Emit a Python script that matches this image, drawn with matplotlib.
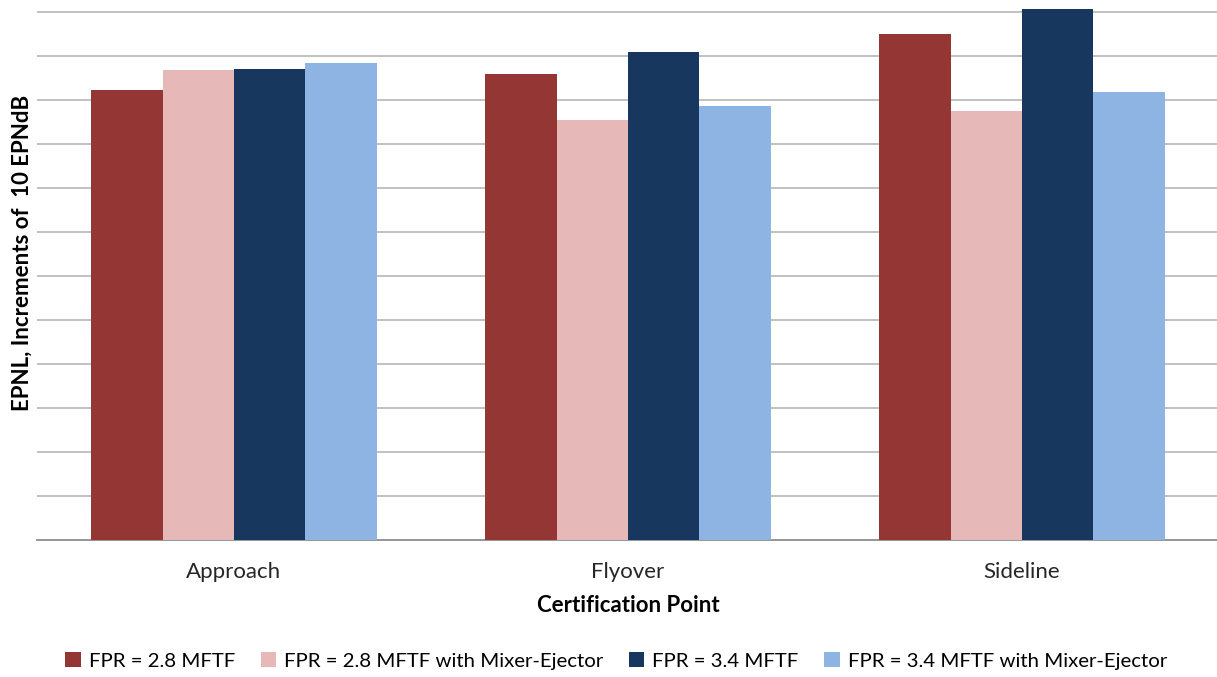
import matplotlib
matplotlib.use("Agg")
import matplotlib.pyplot as plt
import numpy as np

plt.rcParams['font.family'] = ['Lato', 'DejaVu Sans']

categories = ["Approach", "Flyover", "Sideline"]
series_names = ["FPR = 2.8 MFTF", "FPR = 2.8 MFTF with Mixer-Ejector",
                "FPR = 3.4 MFTF", "FPR = 3.4 MFTF with Mixer-Ejector"]
# EPNL (gridlines every 10 EPNdB, no absolute labels)
fpr28 = [102.3, 105.9, 115.1]
fpr28_me = [106.9, 95.6, 97.6]
fpr34 = [107.1, 111.1, 120.8]
fpr34_me = [108.4, 98.8, 101.8]
colors = ["#943634", "#E6B8B7", "#17375E", "#8EB4E3"]

fig = plt.figure(figsize=(12.17, 6.77), dpi=100)
ax = fig.add_axes([37/1217, 137/677, 1182/1217, 539/677])

x = np.arange(len(categories))
w = 0.181
for i, (vals, c, name) in enumerate(zip([fpr28, fpr28_me, fpr34, fpr34_me], colors, series_names)):
    ax.bar(x + (i - 1.5)*w, vals, width=w, color=c, label=name, zorder=3, linewidth=0)

ax.set_xlim(-0.5, 2.5)
ax.set_ylim(0, 122.6)
ax.set_yticks(np.arange(10, 121, 10))
ax.set_yticklabels([])
ax.tick_params(axis='y', length=0)
ax.grid(axis='y', color='#bcbcbc', linewidth=1.3, zorder=0)
ax.set_xticks(x)
ax.set_xticklabels(categories, fontsize=16, color='#262626')
ax.tick_params(axis='x', length=0, pad=16)
for s in ['top', 'right', 'left']:
    ax.spines[s].set_visible(False)
ax.spines['bottom'].set_color('#8c8c8c')
ax.spines['bottom'].set_linewidth(1.3)

ax.set_xlabel("Certification Point", fontsize=16, fontweight='bold', labelpad=9)
ax.set_ylabel("EPNL, Increments of  10 EPNdB", fontsize=16, fontweight='bold')
ax.yaxis.set_label_coords(-0.004, 0.532)

ax.legend(loc='center', bbox_to_anchor=(0.49, -0.225), ncol=4, frameon=False,
          fontsize=14.7, handlelength=0.75, handleheight=0.75, handletextpad=0.4,
          columnspacing=1.25)

fig.savefig("out.png", dpi=100)
